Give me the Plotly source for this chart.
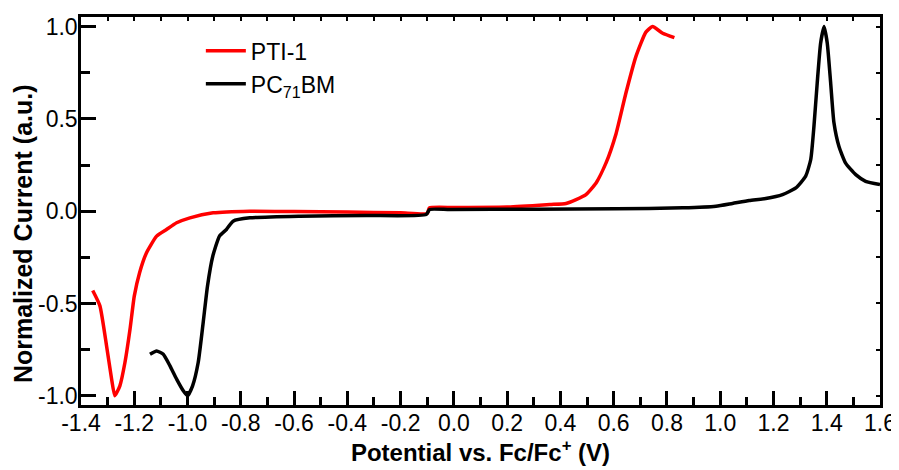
import plotly.graph_objects as go

# PTI-1 (red)
pti_x = [-1.356, -1.329, -1.304, -1.285, -1.273, -1.254, -1.235, -1.216, -1.200,
         -1.180, -1.154, -1.116, -1.079, -1.041, -0.991, -0.904, -0.766, -0.600,
         -0.400, -0.200, -0.100, -0.092, 0.000, 0.200, 0.360, 0.421, 0.459, 0.496,
         0.534, 0.571, 0.609, 0.646, 0.684, 0.721, 0.746, 0.784, 0.828]
pti_y = [-0.43, -0.513, -0.73, -0.91, -1.0, -0.946, -0.82, -0.64, -0.46,
         -0.333, -0.225, -0.135, -0.099, -0.063, -0.036, -0.009, 0.0, -0.002,
         -0.005, -0.009, -0.012, 0.018, 0.02, 0.022, 0.036, 0.042, 0.063, 0.09,
         0.153, 0.26, 0.42, 0.64, 0.84, 0.97, 1.0, 0.964, 0.94]

# PC71BM (black)
pcbm_x = [-1.141, -1.116, -1.091, -1.066, -1.041, -1.016, -1.000, -0.981, -0.960,
          -0.941, -0.925, -0.905, -0.880, -0.854, -0.829, -0.766, -0.579, -0.329,
          -0.104, -0.091, -0.016, 0.300, 0.610, 0.859, 0.984, 1.046, 1.109, 1.171,
          1.234, 1.284, 1.321, 1.340, 1.352, 1.364, 1.377, 1.390, 1.402, 1.415,
          1.427, 1.446, 1.471, 1.509, 1.546, 1.600]
pcbm_y = [-0.775, -0.757, -0.775, -0.838, -0.91, -0.973, -1.0, -0.946, -0.82,
          -0.60, -0.405, -0.243, -0.135, -0.099, -0.054, -0.036, -0.027, -0.023,
          -0.018, 0.009, 0.009, 0.011, 0.013, 0.018, 0.027, 0.042, 0.058, 0.069,
          0.09, 0.126, 0.19, 0.28, 0.46, 0.69, 0.91, 1.0, 0.91, 0.69,
          0.48, 0.35, 0.26, 0.198, 0.162, 0.144]

x_tickvals = [-1.4, -1.2, -1.0, -0.8, -0.6, -0.4, -0.2, 0.0, 0.2, 0.4, 0.6, 0.8, 1.0, 1.2, 1.4, 1.6]
x_ticktext = ["-1.4", "-1.2", "-1.0", "-0.8", "-0.6", "-0.4", "-0.2", "0.0", "0.2", "0.4",
              "0.6", "0.8", "1.0", "1.2", "1.4", "1.6"]
y_tickvals = [-1.0, -0.5, 0.0, 0.5, 1.0]
y_ticktext = ["-1.0", "-0.5", "0.0", "0.5", "1.0"]

FONT = "Liberation Sans, Arial, sans-serif"

fig = go.Figure()
fig.add_trace(go.Scatter(x=pti_x, y=pti_y, mode="lines", name="PTI-1",
                         line=dict(color="#ff0000", width=3.5, shape="spline", smoothing=0.5)))
fig.add_trace(go.Scatter(x=pcbm_x, y=pcbm_y, mode="lines", name="PC<sub>71</sub>BM",
                         line=dict(color="#000000", width=3.5, shape="spline", smoothing=0.5)))
fig.add_trace(go.Scatter(x=[], y=[], xaxis="x2", yaxis="y2", showlegend=False,
                         hoverinfo="skip"))

# page body has an 8px margin, so the figure is 8px smaller and margins compensate
fig.update_layout(
    width=891, height=462,
    margin=dict(l=73, r=19, t=9, b=65),
    paper_bgcolor="white", plot_bgcolor="white",
    font=dict(family=FONT, size=23, color="black"),
    showlegend=True,
    legend=dict(x=0.15, y=0.968, xanchor="left", yanchor="top",
                bgcolor="rgba(0,0,0,0)", font=dict(size=23, family=FONT),
                itemwidth=40, tracegroupgap=0),
    xaxis=dict(range=[-1.4, 1.6], tickvals=x_tickvals, ticktext=x_ticktext,
               ticks="inside", ticklen=14, tickwidth=2.5, tickcolor="black",
               minor=dict(dtick=0.1, tick0=-1.4, ticks="inside", ticklen=8,
                          tickwidth=2.5, tickcolor="black"),
               showline=True, linewidth=2.5, linecolor="black", mirror=True,
               showgrid=False, zeroline=False, ticklabelstandoff=-4,
               automargin=False,
               tickfont=dict(size=23, family=FONT),
               title=dict(text="<b>Potential vs. Fc/Fc<sup>+</sup> (V)</b>",
                          font=dict(size=24, family=FONT), standoff=5)),
    yaxis=dict(range=[-1.05, 1.052], tickvals=y_tickvals, ticktext=y_ticktext,
               ticks="inside", ticklen=15, tickwidth=2.5, tickcolor="black",
               minor=dict(dtick=0.25, tick0=-1.0, ticks="inside", ticklen=9,
                          tickwidth=2.5, tickcolor="black"),
               showline=True, linewidth=2.5, linecolor="black", mirror=True,
               showgrid=False, zeroline=False, automargin=False,
               ticklabelstandoff=-4,
               tickfont=dict(size=23, family=FONT)),
    xaxis2=dict(range=[-1.4, 1.6], overlaying="x", side="top", anchor="y",
                dtick=0.1, tick0=-1.4, ticks="inside", ticklen=4, tickwidth=2,
                tickcolor="black", showticklabels=False, showline=False,
                showgrid=False, zeroline=False, automargin=False),
    yaxis2=dict(range=[-1.05, 1.052], overlaying="y", side="right", anchor="x",
                dtick=0.25, tick0=-1.0, ticks="inside", ticklen=4, tickwidth=2,
                tickcolor="black", showticklabels=False, showline=False,
                showgrid=False, zeroline=False, automargin=False),
    annotations=[dict(text="<b>Normalized Current (a.u.)</b>", textangle=-90,
                      xref="paper", yref="paper", x=-0.0726, y=0.443,
                      xanchor="center", yanchor="middle", showarrow=False,
                      font=dict(size=25, family=FONT))],
)

fig.write_html("out.html")
